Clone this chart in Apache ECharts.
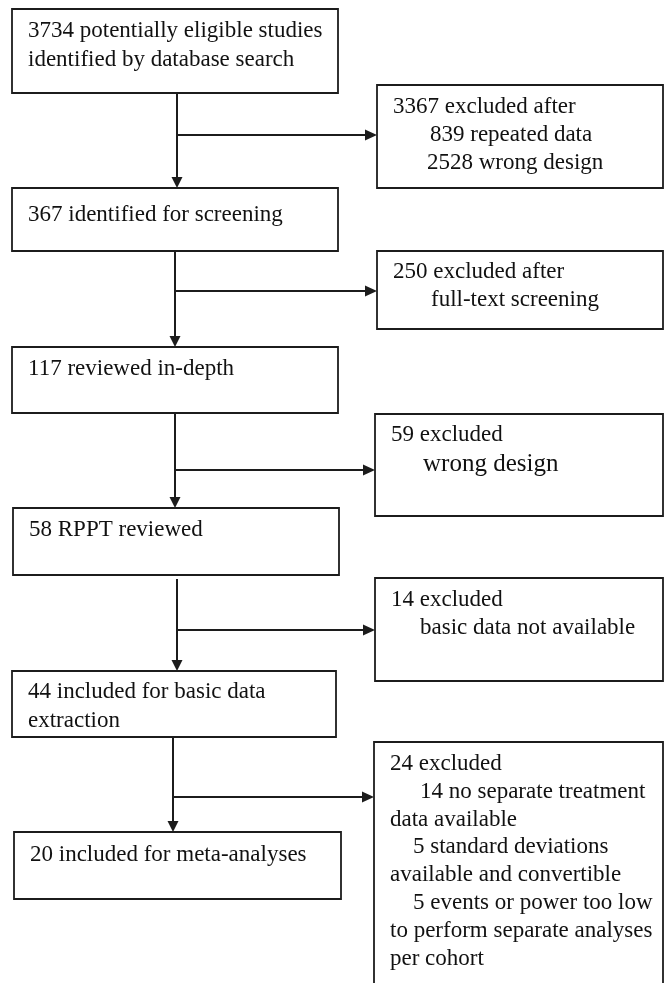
<!DOCTYPE html>
<html>
<head>
<meta charset="utf-8">
<script src="https://cdn.jsdelivr.net/npm/echarts@6/dist/echarts.min.js"></script>
<style>
  html, body { margin: 0; padding: 0; background: #fff; }
  #chart { width: 667px; height: 983px; }
</style>
</head>
<body>
<div id="chart"></div>
<script>
// ---- data ----
var stageCounts = [3734, 367, 117, 58, 44, 20];
var stageLabels = [
    'potentially eligible studies\nidentified by database search',
    'identified for screening',
    'reviewed in-depth',
    'RPPT reviewed',
    'included for basic data\nextraction',
    'included for meta-analyses'
];
var excludedCounts = [3367, 250, 59, 14, 24];
var excludedLabels = ['excluded after', 'excluded after', 'excluded', 'excluded', 'excluded'];
var excludedReasons = [
    ['839 repeated data', '2528 wrong design'],
    ['full-text screening'],
    ['wrong design'],
    ['basic data not available'],
    ['14 no separate treatment', 'data available', '5 standard deviations',
     'available and convertible', '5 events or power too low',
     'to perform separate analyses', 'per cohort']
];

// ---- layout (diagram units = px of the 667x983 page) ----
var stageBox = [
    [12, 9, 338, 93], [12, 188, 338, 251], [12, 347, 338, 413],
    [13, 508, 339, 575], [12, 671, 336, 737], [14, 832, 341, 899]
];
var stageTextTop = [22, 27, 22, 22, 21, 23];
var excludedBox = [
    [377, 85, 663, 188], [377, 251, 663, 329], [375, 414, 663, 516],
    [375, 578, 663, 681], [374, 742, 663, 1000]
];
var excludedTextTop = [22, 21, 21, 22, 22];
// x indent of each line inside excluded boxes
var excludedIndent = [
    [0, 37, 34], [0, 38], [0, 32], [0, 29], [0, 30, 0, 23, 0, 23, 0, 0]
];
// font size of each line (only "wrong design" in box 3 is larger)
var excludedSize = [
    [23, 23, 23], [23, 23], [23, 25], [23, 23], [23, 23, 23, 23, 23, 23, 23, 23]
];
// trunk x, from y, to y, branch y, branch end x
var connectors = [
    [177, 93, 188, 135, 377],
    [175, 251, 347, 291, 377],
    [175, 413, 508, 470, 375],
    [177, 579, 671, 630, 375],
    [173, 737, 832, 797, 374]
];

var ink = '#1c1c1c';
var fontFamily = '"Liberation Serif", "Times New Roman", serif';

var stageLines = stageCounts.map(function (c, i) {
    return (c + ' ' + stageLabels[i]).split('\n');
});
var excludedLines = excludedCounts.map(function (c, i) {
    return [c + ' ' + excludedLabels[i]].concat(excludedReasons[i]);
});

function boxRenderer(lines, textTop, indents, sizes, lineH) {
    return function (params, api) {
        var i = params.dataIndex;
        var p0 = api.coord([api.value(0), api.value(1)]);
        var p1 = api.coord([api.value(2), api.value(3)]);
        var children = [{
            type: 'rect',
            shape: { x: p0[0], y: p0[1], width: p1[0] - p0[0], height: p1[1] - p0[1] },
            style: { fill: '#fff', stroke: ink, lineWidth: 1.8 }
        }];
        var y = p0[1] + textTop[i];
        lines[i].forEach(function (t, k) {
            var fs = sizes ? sizes[i][k] : 23;
            if (k > 0) y += lineH + (fs - 23);
            children.push({
                type: 'text',
                style: {
                    text: t,
                    x: p0[0] + 16 + (indents ? indents[i][k] : 0),
                    y: y,
                    font: fs + 'px ' + fontFamily,
                    fill: '#111',
                    verticalAlign: 'middle'
                }
            });
        });
        return { type: 'group', children: children };
    };
}

function connectorRenderer(params, api) {
    var top = api.coord([api.value(0), api.value(1)]);
    var bot = api.coord([api.value(0), api.value(2)]);
    var br0 = api.coord([api.value(0), api.value(3)]);
    var br1 = api.coord([api.value(4), api.value(3)]);
    var a = 11, h = 5.5;
    var st = { stroke: ink, lineWidth: 2 };
    return {
        type: 'group',
        children: [
            { type: 'line', shape: { x1: top[0], y1: top[1], x2: bot[0], y2: bot[1] - a }, style: st },
            { type: 'polygon', shape: { points: [[bot[0] - h, bot[1] - a], [bot[0] + h, bot[1] - a], [bot[0], bot[1]]] }, style: { fill: ink } },
            { type: 'line', shape: { x1: br0[0], y1: br0[1], x2: br1[0] - a, y2: br1[1] }, style: st },
            { type: 'polygon', shape: { points: [[br1[0] - a - 1, br1[1] - h], [br1[0] - a - 1, br1[1] + h], [br1[0], br1[1]]] }, style: { fill: ink } }
        ]
    };
}

var chart = echarts.init(document.getElementById('chart'));
var option = {
    animation: false,
    backgroundColor: '#fff',
    grid: { left: 0, right: 0, top: 0, bottom: 0 },
    xAxis: { type: 'value', min: 0, max: 667, show: false },
    yAxis: { type: 'value', min: 0, max: 983, inverse: true, show: false },
    series: [
        {
            type: 'custom',
            name: 'connectors',
            clip: false,
            renderItem: connectorRenderer,
            data: connectors
        },
        {
            type: 'custom',
            name: 'stages',
            clip: false,
            renderItem: boxRenderer(stageLines, stageTextTop, null, null, 28.5),
            data: stageBox
        },
        {
            type: 'custom',
            name: 'excluded',
            clip: false,
            renderItem: boxRenderer(excludedLines, excludedTextTop, excludedIndent, excludedSize, 27.8),
            data: excludedBox
        }
    ]
};
chart.setOption(option);
</script>
</body>
</html>
